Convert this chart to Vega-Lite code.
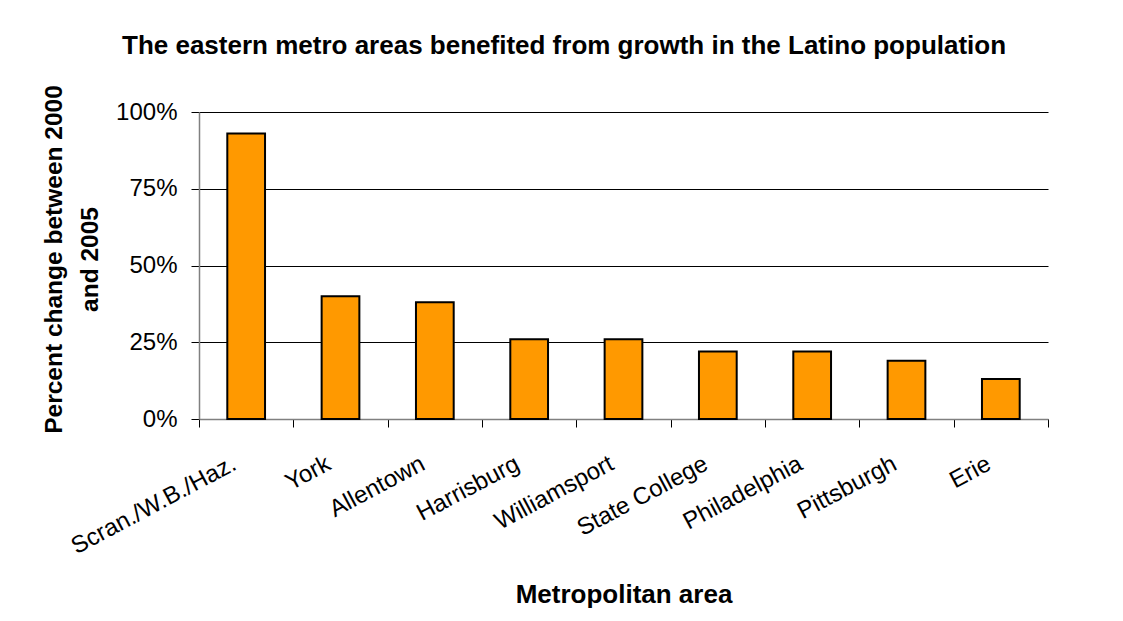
{
  "$schema": "https://vega.github.io/schema/vega-lite/v6.json",
  "autosize": {"type": "none"},
  "width": 849,
  "height": 307,
  "padding": {"left": 199, "top": 112, "right": 75, "bottom": 202},
  "background": "white",
  "title": {
    "text": "The eastern metro areas benefited from growth in the Latino population",
    "anchor": "start",
    "frame": "group",
    "dx": -77,
    "offset": 5,
    "baseline": "alphabetic",
    "font": "Liberation Sans",
    "fontSize": 26,
    "fontWeight": "bold",
    "color": "#000000"
  },
  "data": {
    "values": [
      {"area": "Scran./W.B./Haz.", "change": 0.93},
      {"area": "York", "change": 0.40},
      {"area": "Allentown", "change": 0.38},
      {"area": "Harrisburg", "change": 0.26},
      {"area": "Williamsport", "change": 0.26},
      {"area": "State College", "change": 0.22},
      {"area": "Philadelphia", "change": 0.22},
      {"area": "Pittsburgh", "change": 0.19},
      {"area": "Erie", "change": 0.13}
    ]
  },
  "mark": {"type": "bar", "fill": "#FF9900", "stroke": "#000000", "strokeWidth": 2, "width": {"band": 0.4}},
  "encoding": {
    "x": {
      "field": "area",
      "type": "nominal",
      "sort": null,
      "scale": {"paddingInner": 0, "paddingOuter": 0},
      "axis": {
        "title": "Metropolitan area",
        "titleFont": "Liberation Sans",
        "titleFontSize": 26,
        "titleFontWeight": "bold",
        "titleColor": "#000000",
        "titleY": 183,
        "titleBaseline": "alphabetic",
        "labelAngle": -28,
        "labelAlign": "right",
        "labelBaseline": "middle",
        "labelFont": "Liberation Sans",
        "labelFontSize": 24,
        "labelColor": "#000000",
        "labelPadding": 35,
        "labelOffset": -12,
        "labelOverlap": false,
        "labelBound": false,
        "labelLimit": 400,
        "tickBand": "extent",
        "ticks": true,
        "tickSize": 8,
        "tickColor": "#000000",
        "domainColor": "#808080",
        "domainWidth": 1.5,
        "grid": false
      }
    },
    "y": {
      "field": "change",
      "type": "quantitative",
      "scale": {"domain": [0, 1], "nice": false},
      "axis": {
        "title": ["Percent change between 2000", "and 2005"],
        "titleFont": "Liberation Sans",
        "titleFontSize": 24.5,
        "titleFontWeight": "bold",
        "titleColor": "#000000",
        "titleLineHeight": 36,
        "titleX": -145,
        "titleY": 147,
        "titleAngle": -90,
        "titleAlign": "center",
        "titleBaseline": "middle",
        "values": [0, 0.25, 0.5, 0.75, 1],
        "format": ".0%",
        "labelFont": "Liberation Sans",
        "labelFontSize": 24,
        "labelColor": "#000000",
        "labelPadding": 14,
        "tickSize": 8,
        "tickColor": "#000000",
        "domainColor": "#808080",
        "domainWidth": 1.5,
        "grid": true,
        "gridColor": "#000000",
        "gridWidth": 1
      }
    }
  },
  "config": {
    "view": {"stroke": null}
  }
}
